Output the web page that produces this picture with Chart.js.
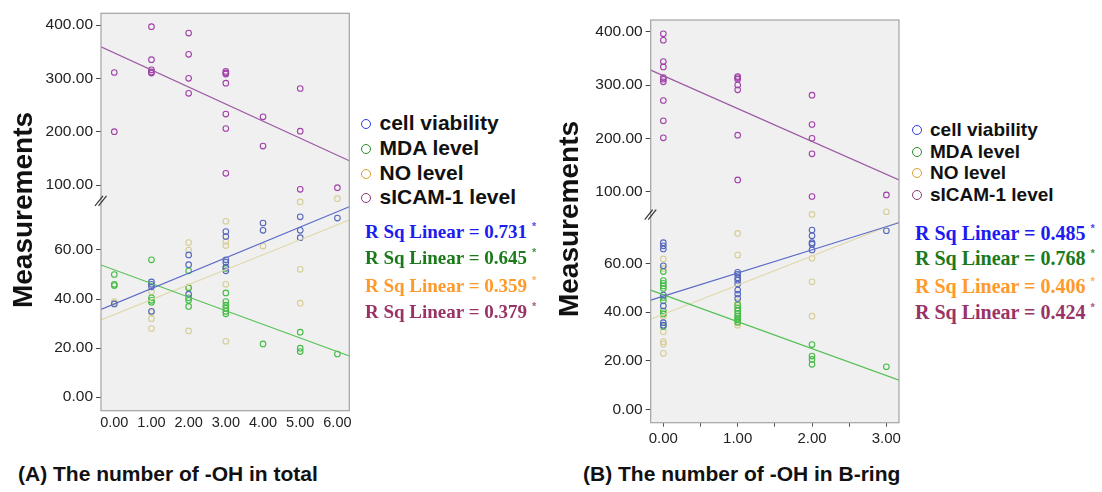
<!DOCTYPE html>
<html>
<head>
<meta charset="utf-8">
<script src="https://cdn.jsdelivr.net/npm/chart.js@4.4.1/dist/chart.umd.min.js"></script>
<style>
body{margin:0;background:#fff;width:1102px;height:492px;position:relative;overflow:hidden;font-family:"Liberation Sans",Arial,sans-serif;color:#111}
canvas{position:absolute;top:0}
#chartA{left:0}
#chartB{left:560px}
.ytitle{position:absolute;width:240px;height:34px;line-height:34px;text-align:center;font-weight:bold;font-size:28px;transform:rotate(-90deg);white-space:nowrap}
.row{position:absolute;white-space:nowrap;height:24px;line-height:24px;font-weight:bold}
.dot{display:inline-block;width:8px;height:8px;border:1.6px solid;border-radius:50%;margin-right:8.5px;vertical-align:1px}
.rsq{font-family:"Liberation Serif","Times New Roman",serif}
.star{font-size:11px;vertical-align:8px;margin-left:5px;font-family:"Liberation Sans",Arial,sans-serif;opacity:.8}
.caption{position:absolute;font-weight:bold;font-size:21px;white-space:nowrap;top:462px}
</style>
</head>
<body>

<canvas id="chartA" width="360" height="440"></canvas>
<canvas id="chartB" width="350" height="450"></canvas>

<div class="ytitle" style="left:-97px;top:193px">Measurements</div>
<div class="ytitle" style="left:449px;top:202px">Measurements</div>

<div id="legendA"></div>
<div id="legendB"></div>

<div class="caption" style="left:18px">(A) The number of -OH in total</div>
<div class="caption" style="left:583px">(B) The number of -OH in B-ring</div>

<script>

/* DATA */

const seriesNames = ["cell viability","MDA level","NO level","sICAM-1 level"]

const yTicks = [0,20,40,60,100,200,300,400]

// panel A : values grouped by x category
const xCatA = [0,1,2,3,4,5,6]
const cellA = [[38],[47,46,45,35],[58,54,42],[67.5,65.5,56,55,53,51.5],[71,68],[73.5,68,65],[73]]
const mdaA = [[50,46,45.5],[56,40.5,39.5,38.7],[51.5,44.5,40.5,39.5,37],[52.5,42.5,39,37.5,36.3,35,34],[21.7],[26.5,20,18.6],[17.6]]
const noA = [[39,38.5],[43,34.5,32,28],[63,60,45,27],[71.7,63.5,61.8,46,22.8],[61.6],[79.6,52.1,38.3],[80.9]]
const sicamA = [[311,200],[397,335,316,312,310],[385,345,300,272],[313,310,308,291,233,206,122],[228,173],[281,201,92],[95]]
const rsqA = [0.731,0.645,0.359,0.379]
const xTicksA = [0,1,2,3,4,5,6]

// fit lines, read at the left and right frame edges
const fitXA = [-0.357,6.32]
const fitCellA = [35.8,77.6]
const fitMdaA = [53.9,16.8]
const fitNoA = [31.5,72.2]
const fitSicamA = [359.3,145.5]

// panel B
const xCatB = [0,1,2,3]
const cellB = [[68.5,67.2,65.9,59,47,42.5,35.6,34.6],[56.3,55.5,54.1,53.1,51.5,49,47.4,45.6],[73.7,71.3,68.5,67.9,65.5],[73.4]]
const mdaB = [[56.6,52.9,51.8,50.7,49.7,46,44.6,40.5,39.2,34],[42.9,41.5,40.5,39.4,38.3,37.4,36.7,35.8],[26.6,21.9,20.5,18.5],[17.5]]
const noB = [[61.8,57.9,39.7,38.3,31.9,27.8,26.8,23],[72.3,63.4,44.2,42.9,35.6,34.6],[80.1,62.1,52.4,38.3],[81.2]]
const sicamB = [[396,384,344,334,314,311,306,271,233,201],[316,314,311,300,291,206,122],[281,226,200,171,91],[94]]
const rsqB = [0.485,0.768,0.406,0.424]
const xTicksB = [0,0.5,1,1.5,2,2.5,3]

const fitXB = [-0.17,3.17]
const fitCellB = [44.9,76.7]
const fitMdaB = [49,12]
const fitNoB = [37,77.1]
const fitSicamB = [328,121.9]

/* COLOURS */

const pointColors = ["#5566bb","#44bb44","#d6cd96","#a040a8"]
const lineColors = ["#5b6bc8","#55c055","#e0d9ae","#9c5aa4"]
const legendColors = ["#2e3ee0","#2a8a2a","#d8a030","#8a3a70"]
const rsqColors = ["#1c1cf0","#1a7a1a","#ff9a2a","#993366"]

/* y scale with a break: lower part 0-80 is stretched, upper part is compressed */

class BrokenScale extends Chart.LinearScale {
  getPixelForValue(v){
    if(v === null || v === undefined) return NaN
    const b = this.options.breakAt
    const s = this.options.lowShare
    let d
    if(v <= b) d = (v - this.min) / (b - this.min) * s
    else d = s + (v - b) / (this.max - b) * (1 - s)
    return this.getPixelForDecimal(d)
  }
  getValueForPixel(p){
    const b = this.options.breakAt
    const s = this.options.lowShare
    const d = this.getDecimalForPixel(p)
    if(d <= s) return this.min + d / s * (b - this.min)
    return b + (d - s) / (1 - s) * (this.max - b)
  }
}
BrokenScale.id = "broken"
BrokenScale.defaults = {}
Chart.register(BrokenScale)

const framePlugin = {
  id:"frame",
  beforeDatasetsDraw(chart){
    const a = chart.chartArea
    const ctx = chart.ctx
    ctx.save()
    ctx.fillStyle = "#f0f0f0"
    ctx.fillRect(a.left,a.top,a.right-a.left,a.bottom-a.top)
    ctx.restore()
  },
  afterDraw(chart){
    const a = chart.chartArea
    const ctx = chart.ctx
    ctx.save()
    ctx.strokeStyle = "#a3a3a3"
    ctx.lineWidth = 1.2
    ctx.strokeRect(a.left,a.top,a.right-a.left,a.bottom-a.top)
    // break marks on the y axis
    const yb = chart.scales.y.getPixelForValue(80)
    ctx.strokeStyle = "#333"
    ctx.lineWidth = 1.2
    for(const dx of [0,3.5]){
      ctx.beginPath()
      ctx.moveTo(a.left-6+dx,yb+5)
      ctx.lineTo(a.left+2+dx,yb-5)
      ctx.stroke()
    }
    ctx.restore()
  }
}

function points(cats,groups){
  const out = []
  groups.forEach((g,i)=>g.forEach(v=>out.push({x:cats[i],y:v})))
  return out
}

function fitLine(xs,ys){
  return xs.map((x,i)=>({x:x,y:ys[i]}))
}

function makePanel(id,p){

  const datasets = []

  p.fits.forEach((f,i)=>{
    datasets.push({
      type:"line",
      data:fitLine(p.fitX,f),
      borderColor:lineColors[i],
      borderWidth:1.2,
      pointRadius:0,
      fill:false
    })
  })

  p.series.forEach((s,i)=>{
    datasets.push({
      type:"scatter",
      data:points(p.cats,s),
      borderColor:pointColors[i],
      backgroundColor:"rgba(0,0,0,0)",
      borderWidth:1.1,
      pointRadius:2.8
    })
  })

  new Chart(document.getElementById(id),{
    type:"scatter",
    data:{datasets:datasets},
    plugins:[framePlugin],
    options:{
      responsive:false,
      animation:false,
      events:[],
      layout:{padding:{top:p.padTop,right:p.padRight,bottom:p.padBottom,left:0}},
      plugins:{legend:{display:false},tooltip:{enabled:false}},
      scales:{
        x:{
          type:"linear",
          min:p.fitX[0],
          max:p.fitX[1],
          afterBuildTicks:s=>{s.ticks = p.xTicks.map(v=>({value:v}))},
          afterFit:s=>{s.height = 25},
          border:{display:false},
          grid:{drawOnChartArea:false,drawTicks:p.xTickMarks,tickLength:4,color:"#555"},
          ticks:{
            autoSkip:false,maxRotation:0,
            padding:p.xTickMarks ? 3 : 4,
            color:"#222",
            font:{size:p.xFont,family:"Liberation Sans"},
            callback:v=>Number.isInteger(v) ? v.toFixed(2) : ""
          }
        },
        y:{
          type:"broken",
          min:p.yMin,
          max:p.yMax,
          breakAt:p.breakAt,
          lowShare:p.lowShare,
          bounds:"data",
          afterBuildTicks:s=>{s.ticks = yTicks.map(v=>({value:v}))},
          afterFit:s=>{s.width = p.yAxisW},
          border:{display:false},
          grid:{drawOnChartArea:false,tickLength:5,color:"#444"},
          ticks:{
            padding:3,
            color:"#222",
            font:{size:15.5,family:"Liberation Sans"},
            callback:v=>Number(v).toFixed(2)
          }
        }
      }
    }
  })
}

makePanel("chartA",{
  cats:xCatA,
  series:[cellA,mdaA,noA,sicamA],
  fitX:fitXA,
  fits:[fitCellA,fitMdaA,fitNoA,fitSicamA],
  xTicks:xTicksA,
  xTickMarks:false,
  xFont:14.5,
  yMin:-5.5, yMax:422, breakAt:82.7, lowShare:0.5446,
  yAxisW:101, padTop:13.3, padRight:10.7, padBottom:4.3
})

makePanel("chartB",{
  cats:xCatB,
  series:[cellB,mdaB,noB,sicamB],
  fitX:fitXB,
  fits:[fitCellB,fitMdaB,fitNoB,fitSicamB],
  xTicks:xTicksB,
  xTickMarks:true,
  xFont:15,
  yMin:-5.5, yMax:422, breakAt:86.5, lowShare:0.5558,
  yAxisW:90.7, padTop:20, padRight:11, padBottom:2.3
})

/* LEGENDS */

function makeLegend(id,cfg){
  const box = document.getElementById(id)
  seriesNames.forEach((name,i)=>{
    const row = document.createElement("div")
    row.className = "row"
    row.style.left = cfg.left + "px"
    row.style.top = (cfg.nameY[i] - 12) + "px"
    row.style.fontSize = cfg.nameSize + "px"
    row.innerHTML = '<span class="dot" style="border-color:' + legendColors[i] + '"></span>' + name
    box.appendChild(row)
  })
  cfg.rsq.forEach((r,i)=>{
    const row = document.createElement("div")
    row.className = "row rsq"
    row.style.left = cfg.rsqLeft + "px"
    row.style.top = (cfg.rsqY[i] - 12) + "px"
    row.style.fontSize = cfg.rsqSize + "px"
    row.style.color = rsqColors[i]
    row.innerHTML = "R Sq Linear = " + r.toFixed(3) + '<span class="star">*</span>'
    box.appendChild(row)
  })
}

makeLegend("legendA",{
  left:361, nameY:[123,148,172.5,197], nameSize:21,
  rsq:rsqA, rsqLeft:365, rsqY:[226,252,279.5,306], rsqSize:19
})

makeLegend("legendB",{
  left:911.5, nameY:[129.5,152,173,195], nameSize:19,
  rsq:rsqB, rsqLeft:915, rsqY:[227.5,253,280.5,306.5], rsqSize:20
})

</script>
</body>
</html>
